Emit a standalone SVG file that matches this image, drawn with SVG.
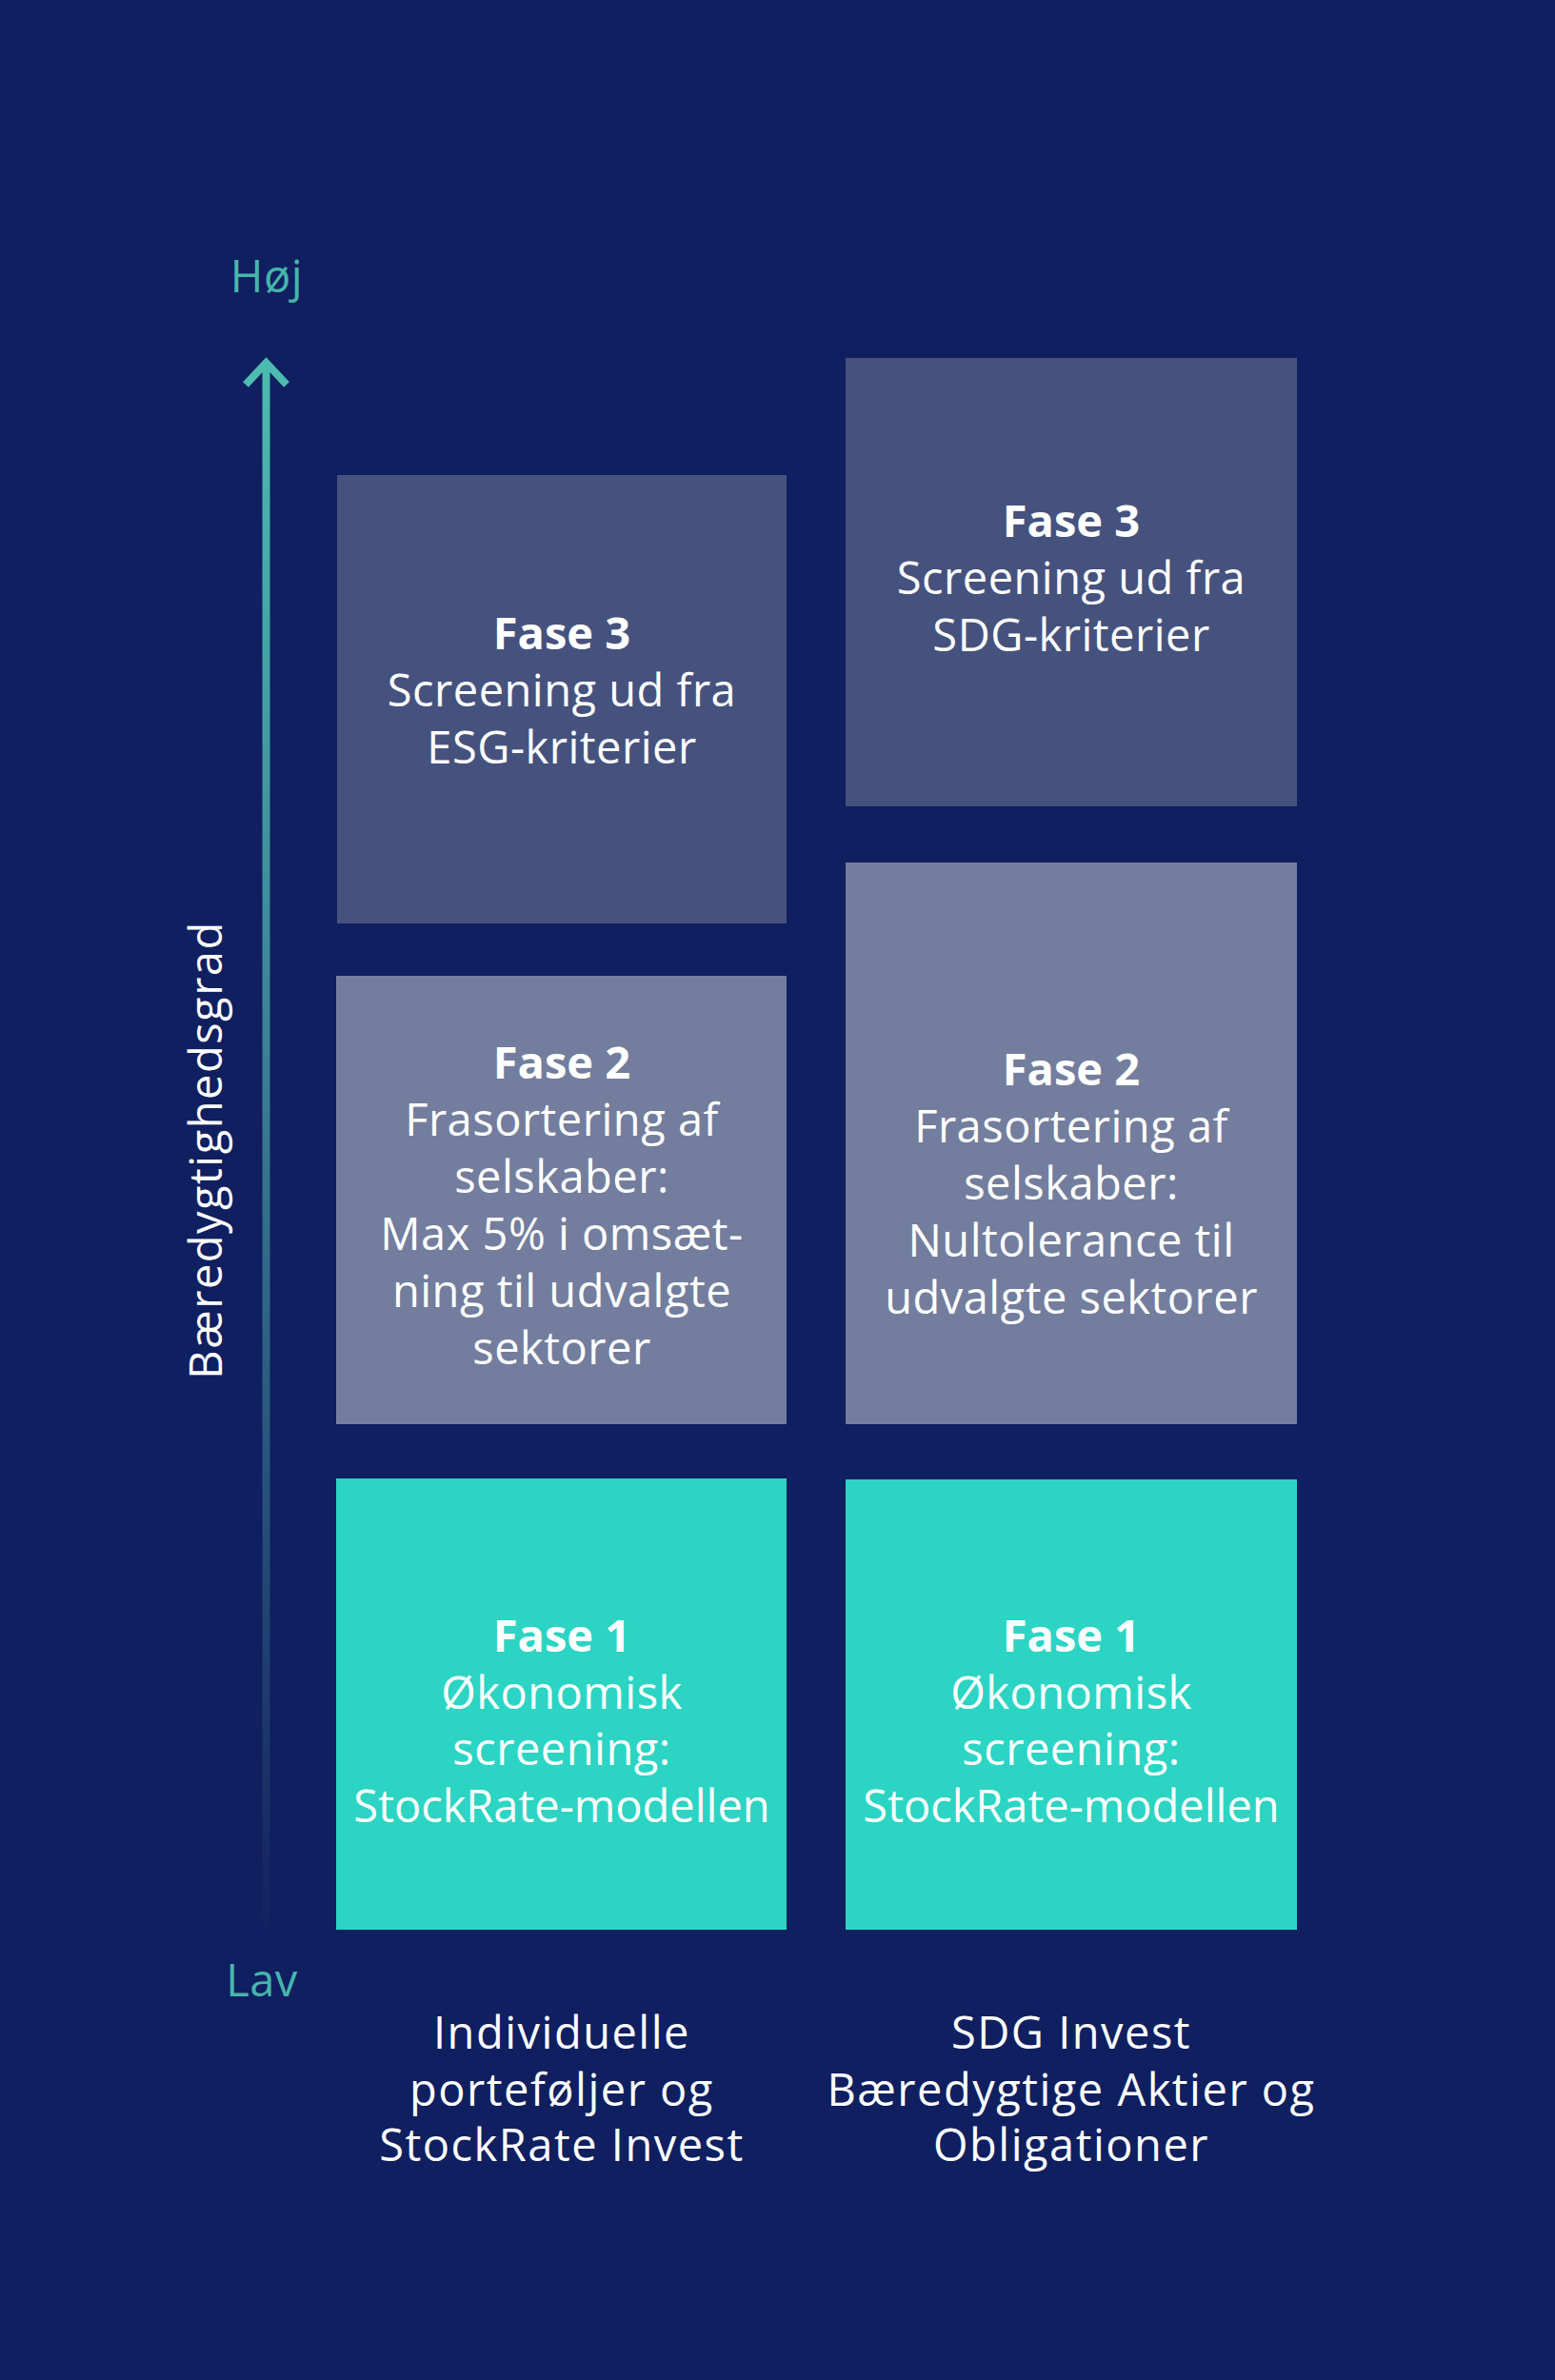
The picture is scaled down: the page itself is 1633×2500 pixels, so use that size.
<svg xmlns="http://www.w3.org/2000/svg" width="1633" height="2500" viewBox="0 0 1633 2500">
<defs>
<linearGradient id="axisGrad" gradientUnits="userSpaceOnUse" x1="0" y1="376" x2="0" y2="2027">
<stop offset="0" stop-color="#4cbcb0"/>
<stop offset="0.45" stop-color="#3a8094"/>
<stop offset="1" stop-color="#13215f"/>
</linearGradient>
<style>
.bg{fill:#0f1f60}
.f3{fill:#46527e}
.f2{fill:#737d9d}
.f1{fill:#2cd4c3}
text{font-family:"Open Sans","Liberation Sans",sans-serif;font-size:47px;fill:#ffffff;text-anchor:middle;letter-spacing:0.5px}
.b{font-weight:700;letter-spacing:0}
.teal{fill:#47b5ac}
.wide{letter-spacing:1.5px}
</style>
</defs>
<rect class="bg" x="0" y="0" width="1633" height="2500"/>
<g id="connectors">
<line x1="279.5" y1="382" x2="279.5" y2="2027" stroke="url(#axisGrad)" stroke-width="8"/>
<polyline points="258,404 279.5,381 301,404" fill="none" stroke="#4cbcb0" stroke-width="8"/>
</g>
<g id="axis-labels">
<text class="teal" x="280" y="307">Høj</text>
<text class="teal" x="275" y="2097">Lav</text>
<text class="wide" x="0" y="0" transform="translate(233,1208) rotate(-90)">Bæredygtighedsgrad</text>
</g>
<g id="left-fase3">
<rect class="f3" x="354" y="499" width="472" height="471"/>
<text x="590" y="682" class="b">Fase 3</text>
<text x="590" y="742">Screening ud fra</text>
<text x="590" y="802">ESG-kriterier</text>
</g>
<g id="left-fase2">
<rect class="f2" x="353" y="1025" width="473" height="471"/>
<text x="590" y="1133" class="b">Fase 2</text>
<text x="590" y="1193">Frasortering af</text>
<text x="590" y="1253">selskaber:</text>
<text x="590" y="1313">Max 5% i omsæt-</text>
<text x="590" y="1373">ning til udvalgte</text>
<text x="590" y="1433">sektorer</text>
</g>
<g id="left-fase1">
<rect class="f1" x="353" y="1553" width="473" height="474"/>
<text x="590" y="1735" class="b">Fase 1</text>
<text x="590" y="1795">Økonomisk</text>
<text x="590" y="1854">screening:</text>
<text x="590" y="1914" style="letter-spacing:0">StockRate-modellen</text>
</g>
<g id="right-fase3">
<rect class="f3" x="888" y="376" width="474" height="471"/>
<text x="1125" y="564" class="b">Fase 3</text>
<text x="1125" y="624">Screening ud fra</text>
<text x="1125" y="684">SDG-kriterier</text>
</g>
<g id="right-fase2">
<rect class="f2" x="888" y="906" width="474" height="590"/>
<text x="1125" y="1140" class="b">Fase 2</text>
<text x="1125" y="1200">Frasortering af</text>
<text x="1125" y="1260">selskaber:</text>
<text x="1125" y="1320">Nultolerance til</text>
<text x="1125" y="1380">udvalgte sektorer</text>
</g>
<g id="right-fase1">
<rect class="f1" x="888" y="1554" width="474" height="473"/>
<text x="1125" y="1735" class="b">Fase 1</text>
<text x="1125" y="1795">Økonomisk</text>
<text x="1125" y="1854">screening:</text>
<text x="1125" y="1914" style="letter-spacing:0">StockRate-modellen</text>
</g>
<g id="label-left">
<text class="wide" x="590" y="2152">Individuelle</text>
<text class="wide" x="590" y="2212">porteføljer og</text>
<text class="wide" x="590" y="2270">StockRate Invest</text>
</g>
<g id="label-right">
<text class="wide" x="1125" y="2152">SDG Invest</text>
<text class="wide" x="1125" y="2212">Bæredygtige Aktier og</text>
<text class="wide" x="1125" y="2270">Obligationer</text>
</g>
</svg>
